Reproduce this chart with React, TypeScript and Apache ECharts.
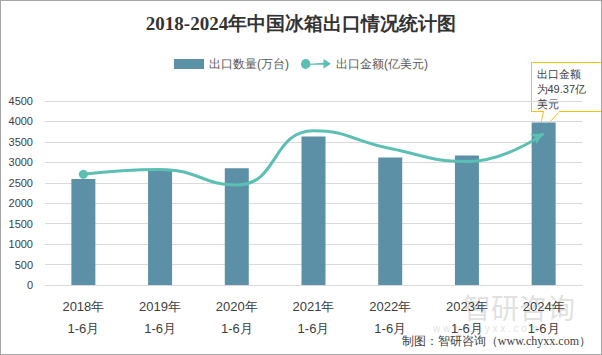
import React, { useEffect, useRef } from "react";
import * as echarts from "echarts";

const categories = ["2018年\n1-6月", "2019年\n1-6月", "2020年\n1-6月", "2021年\n1-6月", "2022年\n1-6月", "2023年\n1-6月", "2024年\n1-6月"];
const exportVolume = [2590, 2830, 2855, 3630, 3120, 3170, 3975];
const exportValue = [36.1, 37.7, 32.6, 50.3, 44.5, 40.3, 49.37];
const yTicks = [0, 500, 1000, 1500, 2000, 2500, 3000, 3500, 4000, 4500];

const BAR_COLOR = "#5C90A7";
const LINE_COLOR = "#5BBFB4";

export default function App() {
  const ref = useRef<HTMLDivElement>(null);
  useEffect(() => {
    if (!ref.current) return;
    const chart = echarts.init(ref.current, null, { renderer: "svg" });
    const lineData = exportValue.map((v, i) => {
      if (i === 0) return { value: v, symbol: "circle", symbolSize: 9 };
      if (i === exportValue.length - 1) return { value: v, symbol: "arrow", symbolSize: [9, 12], symbolRotate: -62 };
      return { value: v, symbol: "none" };
    });
    chart.setOption({
      animation: false,
      backgroundColor: "#ffffff",
      title: {
        text: "2018-2024年中国冰箱出口情况统计图",
        left: "center",
        top: 8,
        textStyle: { fontFamily: "serif", fontSize: 19, fontWeight: "bold", color: "#333333" },
      },
      legend: {
        top: 52,
        left: "center",
        itemGap: 12,
        textStyle: { fontSize: 12, color: "#595959", fontFamily: "sans-serif" },
        data: [
          { name: "出口数量(万台)", icon: "rect", itemWidth: 26, itemHeight: 7 },
          {
            name: "出口金额(亿美元)",
            icon: "path://M0,5 A5,5 0 1,1 10,5 L24,4 L24,0 L32,5 L24,10 L24,6 L10,6 A5,5 0 0,1 0,5 Z",
          },
        ],
        itemWidth: 30,
        itemHeight: 10,
      },
      grid: { left: 44, right: 19, top: 100, bottom: 69, containLabel: false },
      xAxis: {
        type: "category",
        data: categories,
        axisTick: { show: false },
        axisLine: { show: true, lineStyle: { color: "#d9d9d9" } },
        axisLabel: { color: "#404040", fontSize: 13, lineHeight: 22, margin: 10, fontFamily: "sans-serif" },
      },
      yAxis: [
        {
          type: "value",
          min: yTicks[0],
          max: yTicks[yTicks.length - 1],
          interval: 500,
          axisLine: { show: false },
          axisTick: { show: false },
          axisLabel: { color: "#404040", fontSize: 11, margin: 12, formatter: (v: number) => String(v) },
          splitLine: { lineStyle: { color: "#d9d9d9", width: 1 } },
        },
        { type: "value", min: 0, max: 60, show: false, splitLine: { show: false } },
      ],
      series: [
        {
          name: "出口数量(万台)",
          type: "bar",
          data: exportVolume,
          barWidth: 24,
          itemStyle: { color: BAR_COLOR },
        },
        {
          name: "出口金额(亿美元)",
          type: "line",
          yAxisIndex: 1,
          smooth: 0.5,
          data: lineData,
          lineStyle: { color: LINE_COLOR, width: 3 },
          itemStyle: { color: LINE_COLOR },
        },
      ],
      graphic: [
        {
          type: "group",
          left: 530,
          top: 61,
          children: [
            { type: "polygon", shape: { points: [[12, 49], [28, 49], [7, 72]] }, style: { fill: "#fff", stroke: "#FFC000", lineWidth: 1 } },
            { type: "rect", shape: { x: 0, y: 0, width: 70, height: 49 }, style: { fill: "#fff", stroke: "#FFC000", lineWidth: 1 } },
            { type: "rect", shape: { x: 12.5, y: 47, width: 15, height: 3 }, style: { fill: "#fff" } },
            { type: "text", x: 5, y: 4, style: { text: "出口金额\n为49.37亿\n美元", fontSize: 11, lineHeight: 15, fill: "#404040", fontFamily: "sans-serif" } },
          ],
        },
        {
          type: "text",
          right: 10,
          top: 334,
          style: { text: "制图：智研咨询（www.chyxx.com）", fontSize: 12, fill: "#404040", fontFamily: "serif" },
        },
        {
          type: "text",
          left: 462,
          top: 292,
          z: -1,
          style: { text: "智研咨询", fontSize: 28, fill: "rgba(150,150,150,0.3)", fontFamily: "Noto Sans CJK SC" },
        },
        {
          type: "text",
          left: 432,
          top: 322,
          z: -1,
          style: { text: "w w w . c h y x x . c o m", fontSize: 10, fill: "rgba(150,150,150,0.3)", fontFamily: "sans-serif" },
        },
      ],
    });
    return () => chart.dispose();
  }, []);
  return (
    <div
      style={{
        position: "fixed",
        left: 0,
        top: 0,
        width: 602,
        height: 355,
        border: "1px solid #a6a6a6",
        boxSizing: "border-box",
        background: "#fff",
      }}
    >
      <div ref={ref} style={{ width: 600, height: 353 }} />
    </div>
  );
}
